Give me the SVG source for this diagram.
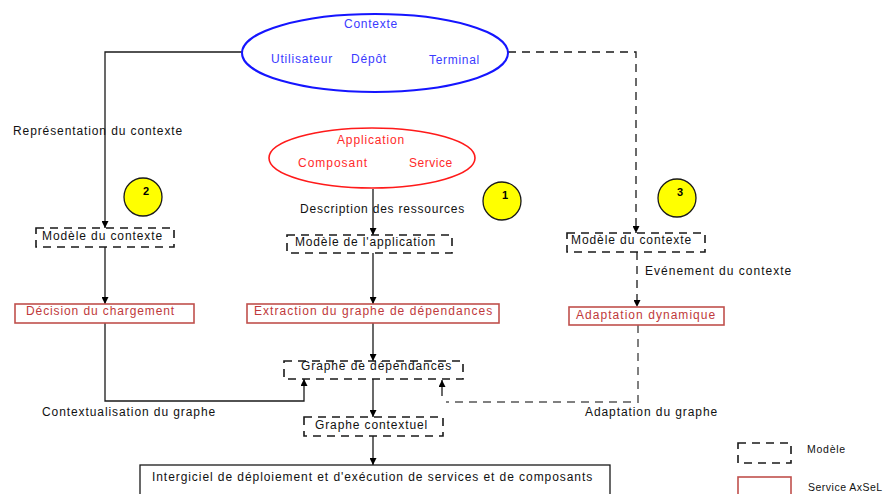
<svg xmlns="http://www.w3.org/2000/svg" width="885" height="494" viewBox="0 0 885 494">
<defs>
<marker id="arr" viewBox="0 0 10 10" refX="10" refY="5" markerWidth="7" markerHeight="7" orient="auto" markerUnits="userSpaceOnUse">
<path d="M0,0 L10,5 L0,10 z" fill="#000"/>
</marker>
</defs>
<style>
text{font-family:"Liberation Sans",Arial,sans-serif;font-size:12px;letter-spacing:0.8px}
.lbl{fill:#111}
.blue{fill:#3a3aff}
.red{fill:#ff2a2a}
.svc{fill:#c0393b}
.model{fill:none;stroke:#1a1a1a;stroke-width:1.6;stroke-dasharray:8 6}
.service{fill:#fff;stroke:#c0504d;stroke-width:1.6}
.num{font-weight:bold;font-size:11px;letter-spacing:0;fill:#000}
.bubble{fill:#ffff00;stroke:#1a1a1a;stroke-width:1.3}
.conn{fill:none;stroke:#1a1a1a;stroke-width:1.3}
.dconn{fill:none;stroke:#1a1a1a;stroke-width:1.3;stroke-dasharray:8 6}
.gconn{fill:none;stroke:#808080;stroke-width:2;stroke-dasharray:8 6}
</style>
<rect width="885" height="494" fill="#fff"/>

<g id="connectors">
<path class="conn" d="M242,52 H105 V228" marker-end="url(#arr)"/>
<path class="dconn" d="M508,52 H636 V233" marker-end="url(#arr)"/>
<path class="conn" d="M373,189 V235" marker-end="url(#arr)"/>
<path class="conn" d="M105,247 V304" marker-end="url(#arr)"/>
<path class="conn" d="M373,253 V304" marker-end="url(#arr)"/>
<path class="dconn" d="M637,252 V307" marker-end="url(#arr)"/>
<path class="conn" d="M373,323 V361" marker-end="url(#arr)"/>
<path class="conn" d="M105,323 V401 H304 V379" marker-end="url(#arr)"/>
<path class="gconn" d="M638,325 V402 H446"/>
<path class="conn" d="M442,396 V380" marker-end="url(#arr)"/>
<path class="conn" d="M373,379 V417" marker-end="url(#arr)"/>
<path class="conn" d="M373,436 V465" marker-end="url(#arr)"/>
<text class="lbl" x="13" y="135" textLength="170" lengthAdjust="spacing">Représentation du contexte</text>
<text class="lbl" x="300" y="213" textLength="165" lengthAdjust="spacing">Description des ressources</text>
<text class="lbl" x="645" y="275" textLength="147" lengthAdjust="spacing">Evénement du contexte</text>
<text class="lbl" x="42" y="416" textLength="174" lengthAdjust="spacing">Contextualisation du graphe</text>
<text class="lbl" x="585" y="416" textLength="133" lengthAdjust="spacing">Adaptation du graphe</text>
</g>

<g id="contexte">
<ellipse cx="375" cy="53" rx="133" ry="39" fill="none" stroke="#1515ff" stroke-width="2"/>
<text class="blue" x="344" y="28" textLength="54" lengthAdjust="spacing">Contexte</text>
<text class="blue" x="271" y="63" textLength="62" lengthAdjust="spacing">Utilisateur</text>
<text class="blue" x="351" y="63" textLength="36" lengthAdjust="spacing">Dépôt</text>
<text class="blue" x="429" y="64" textLength="51" lengthAdjust="spacing">Terminal</text>
</g>

<g id="application">
<ellipse cx="372" cy="158" rx="103" ry="30" fill="none" stroke="#ff1a1a" stroke-width="1.6"/>
<text class="red" x="337" y="144" textLength="68" lengthAdjust="spacing">Application</text>
<text class="red" x="298" y="167" textLength="70" lengthAdjust="spacing">Composant</text>
<text class="red" x="409" y="167" textLength="44" lengthAdjust="spacing">Service</text>
</g>

<g id="badge2">
<circle class="bubble" cx="143" cy="197" r="19"/>
<text class="num" x="146" y="195" text-anchor="middle">2</text>
</g>
<g id="badge1">
<circle class="bubble" cx="502" cy="201" r="19"/>
<text class="num" x="505" y="199" text-anchor="middle">1</text>
</g>
<g id="badge3">
<circle class="bubble" cx="677" cy="198" r="19"/>
<text class="num" x="680" y="196" text-anchor="middle">3</text>
</g>

<g id="modele-contexte-gauche">
<rect class="model" x="36" y="228" width="138" height="19"/>
<text class="lbl" x="42" y="240" textLength="121" lengthAdjust="spacing">Modèle du contexte</text>
</g>
<g id="modele-application">
<rect class="model" x="287" y="235" width="165" height="18"/>
<text class="lbl" x="295" y="246" textLength="141" lengthAdjust="spacing">Modèle de l'application</text>
</g>
<g id="modele-contexte-droite">
<rect class="model" x="567" y="233" width="138" height="19"/>
<text class="lbl" x="571" y="244" textLength="121" lengthAdjust="spacing">Modèle du contexte</text>
</g>

<g id="decision">
<rect class="service" x="15" y="304" width="179" height="19"/>
<text class="svc" x="26" y="315" textLength="149" lengthAdjust="spacing">Décision du chargement</text>
</g>
<g id="extraction">
<rect class="service" x="247" y="304" width="252" height="19"/>
<text class="svc" x="254" y="315" textLength="239" lengthAdjust="spacing">Extraction du graphe de  dépendances</text>
</g>
<g id="adaptation">
<rect class="service" x="569" y="307" width="155" height="18"/>
<text class="svc" x="576" y="319" textLength="140" lengthAdjust="spacing">Adaptation dynamique</text>
</g>

<g id="graphe-dependances">
<rect class="model" x="284" y="361" width="179" height="18"/>
<text class="lbl" x="301" y="370" textLength="151" lengthAdjust="spacing">Graphe de dépendances</text>
</g>
<g id="graphe-contextuel">
<rect class="model" x="304" y="417" width="139" height="19"/>
<text class="lbl" x="315" y="429" textLength="113" lengthAdjust="spacing">Graphe contextuel</text>
</g>

<g id="intergiciel">
<rect x="140" y="465" width="470" height="40" fill="#fff" stroke="#1a1a1a" stroke-width="1.3"/>
<text class="lbl" x="152" y="481" textLength="441" lengthAdjust="spacing">Intergiciel de déploiement et d'exécution de services et de composants</text>
</g>

<g id="legende-modele">
<rect class="model" x="738" y="443" width="53" height="20"/>
<text class="lbl" x="807" y="453" style="font-size:10.5px" textLength="39" lengthAdjust="spacing">Modèle</text>
</g>
<g id="legende-service">
<rect class="service" x="738" y="477" width="53" height="30"/>
<text class="lbl" x="808" y="491" style="font-size:10.5px" textLength="75" lengthAdjust="spacing">Service AxSeL</text>
</g>
</svg>
